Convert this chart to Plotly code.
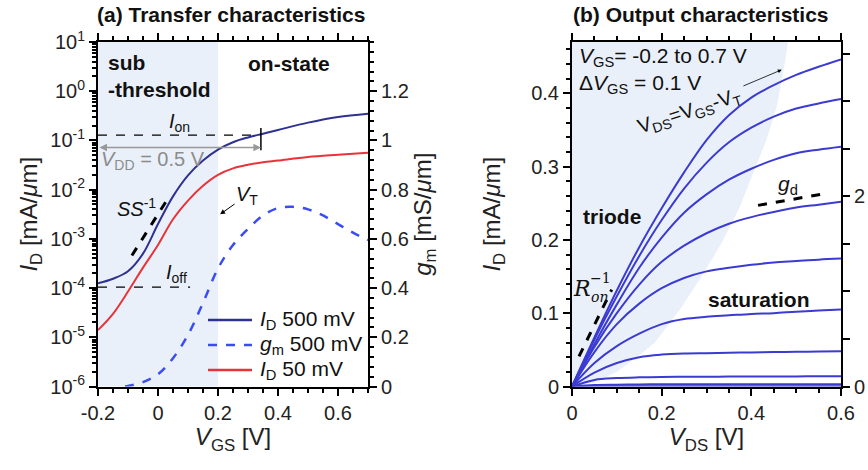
import math
import plotly.graph_objects as go

# ---------------- data: panel (a) transfer characteristics ----------------
vgs = [-0.2, -0.15, -0.1, -0.05, 0.0, 0.05, 0.1, 0.15, 0.2, 0.25, 0.3, 0.35, 0.4, 0.5, 0.6, 0.7]
id_500mV = [1.25e-4, 1.55e-4, 2.2e-4, 5.0e-4, 2.0e-3, 7.3e-3, 1.95e-2, 3.9e-2, 6.5e-2,
            9.2e-2, 0.115, 0.137, 0.163, 0.23, 0.30, 0.35]
id_50mV = [1.4e-5, 3.0e-5, 8.5e-5, 2.6e-4, 7.5e-4, 2.5e-3, 6.0e-3, 1.2e-2, 2.0e-2,
           2.7e-2, 3.2e-2, 3.6e-2, 3.9e-2, 4.6e-2, 5.1e-2, 5.6e-2]
vgs_gm = [-0.11, -0.1, -0.05, 0.0, 0.05, 0.1, 0.15, 0.2, 0.25, 0.3, 0.35, 0.4, 0.45,
          0.5, 0.55, 0.6, 0.65, 0.7]
gm_500mV = [0.0, 0.002, 0.018, 0.05, 0.115, 0.21, 0.34, 0.48, 0.575, 0.64, 0.695, 0.725,
            0.73, 0.72, 0.695, 0.66, 0.625, 0.595]

ion_level = 0.128
ion_vgs = [-0.2, 0.343]
ion_tick = [0.178, 0.0634]
ioff_level = 1.05e-4
ioff_vgs = [-0.2, 0.107]
vdd_level = 0.072
ss_vgs = [-0.087, 0.04]
ss_id = [4.6e-4, 7.7e-3]
vt_head = (0.207, 3.16e-3)
vt_text = (0.297, 7.7e-3)

log_ticks = [-6, -5, -4, -3, -2, -1, 0, 1]
gm_ticks = [0, 0.2, 0.4, 0.6, 0.8, 1.0, 1.2]
gm_ticktext = ["0", "0.2", "0.4", "0.6", "0.8", "1", "1.2"]

legend_names = ["<i>I</i><sub>D</sub> 500 mV", "<i>g</i><sub>m</sub> 500 mV", "<i>I</i><sub>D</sub> 50 mV"]

# ---------------- data: panel (b) output characteristics ----------------
vds = [0, 0.05, 0.1, 0.15, 0.2, 0.25, 0.3, 0.35, 0.4, 0.45, 0.5, 0.55, 0.6]
id_vgs_m02 = [0, 0.0004, 0.0005, 0.0005, 0.0005, 0.0005, 0.0005, 0.0005, 0.0005, 0.0005, 0.0005, 0.0005, 0.0005]
id_vgs_m01 = [0, 0.002, 0.0025, 0.0028, 0.003, 0.003, 0.003, 0.003, 0.003, 0.003, 0.003, 0.003, 0.003]
id_vgs_000 = [0, 0.009, 0.0115, 0.0125, 0.013, 0.0132, 0.0134, 0.0135, 0.0136, 0.0137, 0.0138, 0.0139, 0.014]
id_vgs_010 = [0, 0.019, 0.032, 0.040, 0.0435, 0.045, 0.0455, 0.046, 0.0465, 0.047, 0.0473, 0.0477, 0.048]
id_vgs_020 = [0, 0.032, 0.055, 0.072, 0.085, 0.092, 0.095, 0.097, 0.099, 0.100, 0.102, 0.1035, 0.105]
id_vgs_030 = [0, 0.047, 0.085, 0.113, 0.134, 0.148, 0.157, 0.162, 0.166, 0.169, 0.171, 0.173, 0.1745]
id_vgs_040 = [0, 0.054, 0.100, 0.139, 0.170, 0.192, 0.209, 0.222, 0.231, 0.238, 0.244, 0.248, 0.252]
id_vgs_050 = [0, 0.058, 0.112, 0.162, 0.203, 0.237, 0.262, 0.282, 0.297, 0.309, 0.318, 0.323, 0.327]
id_vgs_060 = [0, 0.064, 0.123, 0.178, 0.227, 0.270, 0.305, 0.333, 0.353, 0.368, 0.379, 0.386, 0.392]
id_vgs_070 = [0, 0.067, 0.131, 0.190, 0.243, 0.292, 0.336, 0.370, 0.394, 0.411, 0.425, 0.436, 0.446]
output_curves = [id_vgs_m02, id_vgs_m01, id_vgs_000, id_vgs_010, id_vgs_020,
                 id_vgs_030, id_vgs_040, id_vgs_050, id_vgs_060, id_vgs_070]

shade_vds = [0, 0.05, 0.1, 0.14, 0.185, 0.241, 0.289, 0.334, 0.373, 0.404, 0.434, 0.4565, 0.471, 0.482, 0, 0]
shade_id = [0, 0.005, 0.02, 0.038, 0.060, 0.105, 0.150, 0.196, 0.243, 0.292, 0.337, 0.382, 0.428, 0.47, 0.47, 0]
ron_vds = [0.0156, 0.0885]
ron_id = [0.041, 0.132]
gd_vds = [0.415, 0.564]
gd_id = [0.247, 0.263]
sat_arrow_tail = (0.379, 0.409)
sat_arrow_head = (0.468, 0.432)

FONT = "Liberation Sans, Arial, sans-serif"
SERIF = "DejaVu Serif, Liberation Serif, serif"
SHADE = "#e9f0f9"
BLUE_OUT = "#3b3bd2"
C_ID500 = "#2e3192"
C_GM = "#3b4cf5"
C_ID50 = "#e8333a"

fig = go.Figure()

# ---- panel (b) shading and curves ----
fig.add_trace(go.Scatter(x=shade_vds, y=shade_id, fill="toself", fillcolor=SHADE,
                         mode="lines", line=dict(width=0), xaxis="x2", yaxis="y3",
                         showlegend=False, hoverinfo="skip"))
for cur in output_curves:
    fig.add_trace(go.Scatter(x=vds, y=cur, mode="lines", line=dict(color=BLUE_OUT, width=2, shape="spline"),
                             xaxis="x2", yaxis="y3", showlegend=False))
fig.add_trace(go.Scatter(x=ron_vds, y=ron_id, mode="lines", line=dict(color="black", width=3, dash="dash"),
                         xaxis="x2", yaxis="y3", showlegend=False))
fig.add_trace(go.Scatter(x=gd_vds, y=gd_id, mode="lines", line=dict(color="black", width=3, dash="dash"),
                         xaxis="x2", yaxis="y3", showlegend=False))
fig.add_trace(go.Scatter(x=[0], y=[0], mode="markers", marker=dict(opacity=0), xaxis="x2", yaxis="y4",
                         showlegend=False, hoverinfo="skip"))

# ---- panel (a) ----
fig.add_trace(go.Scatter(x=vgs, y=id_500mV, mode="lines", name=legend_names[0], showlegend=False,
                         line=dict(color=C_ID500, width=2, shape="spline"), xaxis="x", yaxis="y"))
fig.add_trace(go.Scatter(x=vgs_gm, y=gm_500mV, mode="lines", name=legend_names[1], showlegend=False,
                         line=dict(color=C_GM, width=2.5, dash="dash", shape="spline"), xaxis="x", yaxis="y2"))
fig.add_trace(go.Scatter(x=vgs, y=id_50mV, mode="lines", name=legend_names[2], showlegend=False,
                         line=dict(color=C_ID50, width=2, shape="spline"), xaxis="x", yaxis="y"))

fig.add_trace(go.Scatter(x=ion_vgs, y=[ion_level, ion_level], mode="lines",
                         line=dict(color="black", width=1.2, dash="dash"), showlegend=False, xaxis="x", yaxis="y"))
fig.add_trace(go.Scatter(x=[ion_vgs[1], ion_vgs[1]], y=ion_tick, mode="lines",
                         line=dict(color="black", width=1.5), showlegend=False, xaxis="x", yaxis="y"))
fig.add_trace(go.Scatter(x=ioff_vgs, y=[ioff_level, ioff_level], mode="lines",
                         line=dict(color="black", width=1.2, dash="dash"), showlegend=False, xaxis="x", yaxis="y"))
fig.add_trace(go.Scatter(x=ss_vgs, y=ss_id, mode="lines",
                         line=dict(color="black", width=3, dash="dash"), showlegend=False, xaxis="x", yaxis="y"))

axis_common = dict(showline=True, linewidth=2, linecolor="black", showgrid=False, zeroline=False,
                   ticks="outside", ticklen=7, tickwidth=2, tickcolor="black", automargin=False,
                   tickfont=dict(size=20, family=FONT, color="#222"))
minor_common = dict(ticks="outside", ticklen=4, tickwidth=1.5, tickcolor="black")
title_font = dict(size=24, family=FONT, color="#222")
YDOM = [1 - 386.5 / 470, 1 - 42 / 470]

fig.update_layout(
    width=868, height=470, margin=dict(l=0, r=0, t=0, b=0, autoexpand=False),
    plot_bgcolor="white", paper_bgcolor="white",
    font=dict(family=FONT, color="#222"),
    showlegend=False,
    xaxis=dict(domain=[98 / 868, 368 / 868], range=[-0.2, 0.7], anchor="y",
               tickvals=[-0.2, 0, 0.2, 0.4, 0.6], ticktext=["-0.2", "0", "0.2", "0.4", "0.6"],
               minor=dict(dtick=0.05, tick0=0, **minor_common),
               mirror="ticks",
               title=dict(text="<i>V</i><sub>GS</sub> [V]", font=title_font, standoff=6),
               **axis_common),
    yaxis=dict(domain=YDOM, type="log", range=[-6, 1], anchor="x",
               tickvals=[10 ** k for k in log_ticks],
               ticktext=["10<sup>%d</sup>" % k for k in log_ticks],
               minor=dict(tickmode="array",
                          tickvals=[m * 10 ** k for k in range(-6, 1) for m in range(2, 10)],
                          **minor_common),
               title=dict(text="<i>I</i><sub>D</sub> [mA/<i>μ</i>m]", font=title_font, standoff=6),
               **axis_common),
    yaxis2=dict(overlaying="y", side="right", anchor="x", range=[0, 1.4],
                tickvals=gm_ticks, ticktext=gm_ticktext,
                minor=dict(dtick=0.04, tick0=0, **minor_common),
                title=dict(text="<i>g</i><sub>m</sub> [mS/<i>μ</i>m]", font=title_font, standoff=6),
                **axis_common),
    xaxis2=dict(domain=[572 / 868, 841 / 868], range=[0, 0.6], anchor="y3",
                tickvals=[0, 0.2, 0.4, 0.6], ticktext=["0", "0.2", "0.4", "0.6"],
                minor=dict(dtick=0.05, tick0=0, **minor_common),
                mirror="ticks",
                title=dict(text="<i>V</i><sub>DS</sub> [V]", font=title_font, standoff=6),
                **axis_common),
    yaxis3=dict(domain=YDOM, range=[0, 0.4698], anchor="x2",
                tickvals=[0, 0.1, 0.2, 0.3, 0.4], ticktext=["0", "0.1", "0.2", "0.3", "0.4"],
                minor=dict(dtick=0.02, tick0=0, **minor_common),
                title=dict(text="<i>I</i><sub>D</sub> [mA/<i>μ</i>m]", font=title_font, standoff=24),
                **axis_common),
    yaxis4=dict(overlaying="y3", side="right", anchor="x2", range=[0, 3.626],
                tickvals=[0, 0.5, 1, 1.5, 2, 2.5, 3, 3.5],
                ticktext=["0", "", "", "", "2", "", "", ""],
                **axis_common),
)

fig.add_shape(type="rect", xref="x", yref="y domain", x0=-0.2, x1=0.2, y0=0, y1=1,
              fillcolor=SHADE, line=dict(width=0), layer="below")

L = math.log10
ann = []


def txt(text, x, y, xref, yref, size=21, bold=False, color="#111", xanchor="center", align="center",
        family=FONT, angle=0):
    if bold:
        text = "<b>" + text + "</b>"
    ann.append(dict(text=text, x=x, y=y, xref=xref, yref=yref, showarrow=False, xanchor=xanchor,
                    yanchor="middle", align=align, textangle=angle,
                    font=dict(size=size, family=family, color=color)))


# titles
txt("(a) Transfer characteristics", 231 / 868, 1 - 14 / 470, "paper", "paper", size=21, bold=True)
txt("(b) Output characteristics", 701 / 868, 1 - 14 / 470, "paper", "paper", size=21, bold=True)

# custom legend (panel a)
legend_styles = [dict(color=C_ID500, width=2.5), dict(color=C_GM, width=2.5, dash="dash"),
                 dict(color=C_ID50, width=2.5)]
for i, (name, sty) in enumerate(zip(legend_names, legend_styles)):
    yy = 1 - (320 + 25 * i) / 470
    fig.add_shape(type="line", xref="paper", yref="paper", x0=208 / 868, x1=252 / 868, y0=yy, y1=yy,
                  line=sty)
    txt(name, 258 / 868, yy, "paper", "paper", size=21, xanchor="left", align="left")

# panel (a) texts
txt("sub<br>-threshold", -0.172, 0.318, "x", "y", bold=True, xanchor="left", align="left")
txt("on-state", 0.437, 0.573, "x", "y", bold=True)
txt("<i>I</i><sub>on</sub>", 0.07, -0.628, "x", "y", size=20)
txt("<i>V</i><sub>DD</sub> = 0.5 V", -0.017, -1.401, "x", "y", size=20, color="#8c8c8c")
txt("<i>SS</i><sup>-1</sup>", -0.073, -2.358, "x", "y", size=20)
txt("<i>I</i><sub>off</sub>", 0.06, -3.70, "x", "y", size=20)
ann.append(dict(text="", x=ion_vgs[1], y=L(vdd_level), ax=ion_vgs[0], ay=L(vdd_level),
                xref="x", yref="y", axref="x", ayref="y", showarrow=True,
                arrowhead=2, startarrowhead=2, arrowside="end+start", arrowcolor="#999999",
                arrowwidth=1.5, arrowsize=1, startarrowsize=1))
ann.append(dict(text="<i>V</i><sub>T</sub>", x=vt_head[0], y=L(vt_head[1]), ax=vt_text[0], ay=L(vt_text[1]),
                xref="x", yref="y", axref="x", ayref="y", showarrow=True, arrowhead=2,
                arrowwidth=1, arrowcolor="black", font=dict(size=20, family=FONT, color="#111")))

# panel (b) texts
txt("<i>V</i><sub>GS</sub>= -0.2 to 0.7 V", 0.011, 0.4487, "x2", "y3", xanchor="left", align="left")
txt("Δ<i>V</i><sub>GS</sub> = 0.1 V", 0.011, 0.412, "x2", "y3", xanchor="left", align="left")
txt("V<sub>DS</sub>=V<sub>GS</sub>-V<sub>T</sub>", 0.263, 0.375, "x2", "y3", size=20, angle=-18)
txt("<i>g</i><sub>d</sub>", 0.482, 0.2745, "x2", "y3")
txt("triode", 0.089, 0.232, "x2", "y3", bold=True)
txt("saturation", 0.417, 0.1186, "x2", "y3", bold=True)
txt("<i>R</i>", 0.022, 0.1336, "x2", "y3", size=22, family=SERIF)
txt("<i>on</i>", 0.061, 0.1225, "x2", "y3", size=14, family=SERIF)
txt("−1", 0.064, 0.1475, "x2", "y3", size=14, family=SERIF)
ann.append(dict(text="", x=sat_arrow_head[0], y=sat_arrow_head[1], ax=sat_arrow_tail[0], ay=sat_arrow_tail[1],
                xref="x2", yref="y3", axref="x2", ayref="y3", showarrow=True, arrowhead=2,
                arrowwidth=0.8, arrowcolor="black"))

fig.update_layout(annotations=ann)
fig.write_html("out.html")
